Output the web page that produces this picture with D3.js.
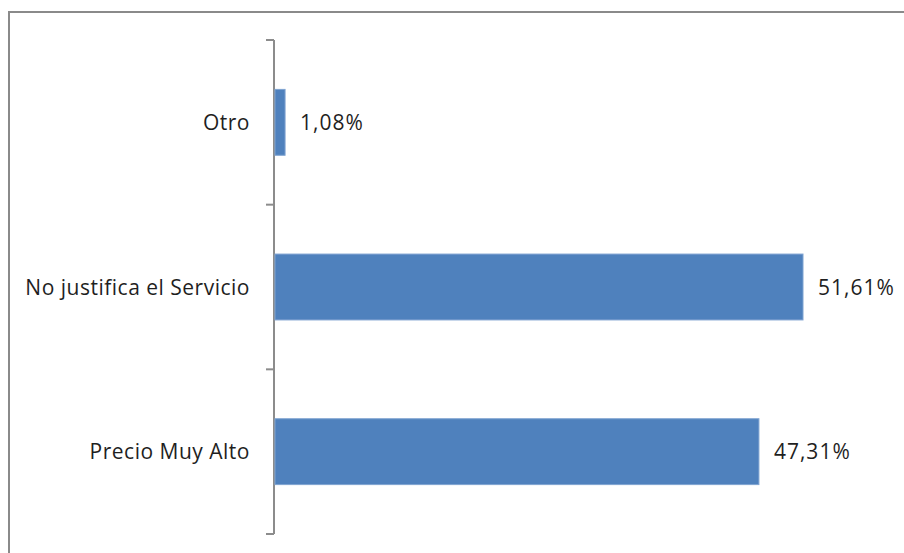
<!DOCTYPE html>
<html>
<head>
<meta charset="utf-8">
<script src="https://cdn.jsdelivr.net/npm/d3@7"></script>
<style>
  html, body { margin: 0; padding: 0; background: #fff; }
  svg { display: block; }
  text { font-family: "Open Sans", "Noto Sans", sans-serif; fill: #1f1f1f; }
</style>
</head>
<body>
<svg id="chart" width="904" height="553"></svg>
<script>
// Motivos (top to bottom) and share of responses, in percent
const categories = ["Otro", "No justifica el Servicio", "Precio Muy Alto"];
const values = [1.08, 51.61, 47.31];
const valueLabels = ["1,08%", "51,61%", "47,31%"];

const svg = d3.select("#chart");

// outer chart frame
svg.append("rect")
  .attr("x", 9).attr("y", 12)
  .attr("width", 910).attr("height", 560)
  .attr("fill", "none")
  .attr("stroke", "#8a8a8a")
  .attr("stroke-width", 2);

const axisX = 274, plotTop = 40, plotBottom = 534;

const y = d3.scaleBand()
  .domain(categories)
  .range([plotTop, plotBottom])
  .paddingInner(0.6)
  .paddingOuter(0.3);

const x = d3.scaleLinear()
  .domain([0, 60])
  .range([axisX, 889]);

// category axis line with boundary ticks between bands
const boundaries = d3.range(categories.length + 1).map(i => plotTop + i * y.step());
const axisG = svg.append("g");
axisG.append("line")
  .attr("x1", axisX).attr("x2", axisX)
  .attr("y1", plotTop).attr("y2", plotBottom)
  .attr("stroke", "#8c8c8c").attr("stroke-width", 2);
axisG.selectAll("line.tick")
  .data(boundaries)
  .join("line")
  .attr("class", "tick")
  .attr("x1", axisX - 8).attr("x2", axisX)
  .attr("y1", d => d).attr("y2", d => d)
  .attr("stroke", "#8c8c8c").attr("stroke-width", 2);

const fontSize = 21;

// category labels
svg.selectAll("text.cat")
  .data(categories)
  .join("text")
  .attr("class", "cat")
  .attr("x", axisX - 24)
  .attr("y", (d) => y(d) + y.bandwidth() / 2)
  .attr("dy", "0.36em")
  .attr("text-anchor", "end")
  .attr("font-size", fontSize)
  .attr("letter-spacing", 0.5)
  .text(d => d);

// bars
svg.selectAll("rect.bar")
  .data(values)
  .join("rect")
  .attr("class", "bar")
  .attr("x", x(0) + 1)
  .attr("y", (d, i) => y(categories[i]))
  .attr("width", d => x(d) - x(0) - 1)
  .attr("height", y.bandwidth())
  .attr("fill", "#4f81bd")
  .attr("stroke", "#7fa3d1")
  .attr("stroke-width", 1);

// value labels
svg.selectAll("text.val")
  .data(values)
  .join("text")
  .attr("class", "val")
  .attr("x", d => x(d) + 15)
  .attr("y", (d, i) => y(categories[i]) + y.bandwidth() / 2)
  .attr("dy", "0.36em")
  .attr("font-size", fontSize)
  .attr("letter-spacing", 1.0)
  .text((d, i) => valueLabels[i]);
</script>
</body>
</html>
